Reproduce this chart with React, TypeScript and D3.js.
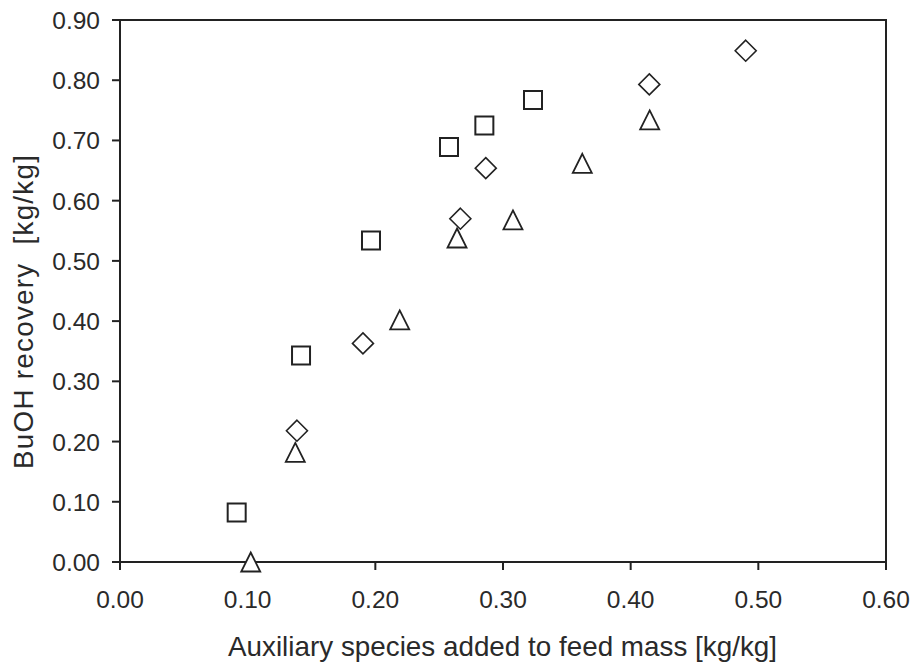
import React from "react";
import * as d3 from "d3";

const xTicks = [0, 0.1, 0.2, 0.3, 0.4, 0.5, 0.6];
const yTicks = [0, 0.1, 0.2, 0.3, 0.4, 0.5, 0.6, 0.7, 0.8, 0.9];

const squareX = [0.0914, 0.1418, 0.1966, 0.2577, 0.2854, 0.3235];
const squareY = [0.082, 0.343, 0.534, 0.689, 0.725, 0.767];

const diamondX = [0.1386, 0.1903, 0.2666, 0.2865, 0.4146, 0.4901];
const diamondY = [0.218, 0.363, 0.57, 0.654, 0.793, 0.849];

const triangleX = [0.1024, 0.1373, 0.2191, 0.264, 0.3078, 0.3621, 0.4149];
const triangleY = [0.0, 0.182, 0.402, 0.538, 0.568, 0.662, 0.734];

const xTitle = "Auxiliary species added to feed mass [kg/kg]";
const yTitle = "BuOH recovery  [kg/kg]";

const W = 912;
const H = 668;
const L = 120, R = 886, T = 20, B = 562;
const ink = "#222";
const textInk = "#2a2a2a";
const font = "'Liberation Sans', Arial, sans-serif";

export default function App() {
  const x = d3.scaleLinear().domain([0, 0.6]).range([L, R]);
  const y = d3.scaleLinear().domain([0, 0.9]).range([B, T]);
  const fmt = d3.format(".2f");

  const sq = 18;
  const sqPath = `M${-sq / 2},${-sq / 2}h${sq}v${sq}h${-sq}Z`;
  const dm = 10.5;
  const dmPath = `M0,${-dm}L${dm},0L0,${dm}L${-dm},0Z`;
  const th = 9.5;
  const triPath = `M0,${-th}L${th},${th}L${-th},${th}Z`;

  return (
    <svg
      width={W}
      height={H}
      style={{ position: "absolute", left: 0, top: 0, background: "#fff" }}
      fontFamily={font}
    >
      <rect x={0} y={0} width={W} height={H} fill="#fff" />
      <rect x={L} y={T} width={R - L} height={B - T} fill="none" stroke={ink} strokeWidth={2} />
      {xTicks.map((t) => (
        <g key={"xt" + t}>
          <line x1={x(t)} x2={x(t)} y1={B} y2={B + 8} stroke={ink} strokeWidth={2} />
          <text x={x(t)} y={608} textAnchor="middle" fontSize={24.5} fill={textInk}>
            {fmt(t)}
          </text>
        </g>
      ))}
      {yTicks.map((t) => (
        <g key={"yt" + t}>
          <line x1={L - 8} x2={L} y1={y(t)} y2={y(t)} stroke={ink} strokeWidth={2} />
          <text x={100} y={y(t) + 9} textAnchor="end" fontSize={24.5} fill={textInk}>
            {fmt(t)}
          </text>
        </g>
      ))}
      <text
        x={228}
        y={656}
        fontSize={27.8}
        fill={textInk}
        textLength={549}
        lengthAdjust="spacing"
      >
        {xTitle}
      </text>
      <text
        transform={`translate(33,${469}) rotate(-90)`}
        fontSize={27.8}
        fill={textInk}
        textLength={314}
        lengthAdjust="spacing"
        style={{ whiteSpace: "pre" }}
      >
        {yTitle}
      </text>
      {squareX.map((v, i) => (
        <path key={"s" + i} d={sqPath} transform={`translate(${x(v)},${y(squareY[i])})`} fill="none" stroke={ink} strokeWidth={2} />
      ))}
      {diamondX.map((v, i) => (
        <path key={"d" + i} d={dmPath} transform={`translate(${x(v)},${y(diamondY[i])})`} fill="none" stroke={ink} strokeWidth={1.6} />
      ))}
      {triangleX.map((v, i) => (
        <path key={"t" + i} d={triPath} transform={`translate(${x(v)},${y(triangleY[i])})`} fill="#fff" stroke={ink} strokeWidth={1.8} />
      ))}
    </svg>
  );
}
